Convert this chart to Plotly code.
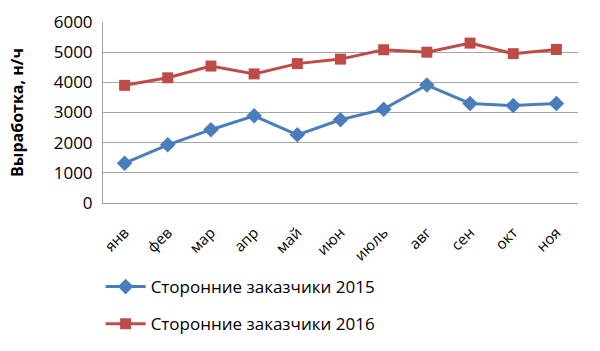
import plotly.graph_objects as go

months = ["янв", "фев", "мар", "апр", "май", "июн", "июль", "авг", "сен", "окт", "ноя"]
s2015 = [1320, 1930, 2430, 2890, 2260, 2760, 3110, 3910, 3300, 3230, 3300]
s2016 = [3900, 4150, 4540, 4280, 4620, 4770, 5080, 5000, 5300, 4950, 5090]
name2015 = "Сторонние заказчики 2015"
name2016 = "Сторонние заказчики 2016"
yticks = [0, 1000, 2000, 3000, 4000, 5000, 6000]

font = "Open Sans, DejaVu Sans, sans-serif"

fig = go.Figure()
fig.add_trace(go.Scatter(
    x=months, y=s2015, name=name2015, mode="lines+markers", legendgroup="a",
    line=dict(color="#4A7EBB", width=3),
    marker=dict(symbol="diamond", size=12, color="#4A7EBB"),
))
fig.add_trace(go.Scatter(
    x=months, y=s2016, name=name2016, mode="lines+markers", legendgroup="b",
    line=dict(color="#BE4B48", width=3),
    marker=dict(symbol="square", size=11, color="#BE4B48"),
))

fig.update_layout(
    width=600, height=351,
    margin=dict(l=103, r=22, t=22, b=148, autoexpand=False),
    paper_bgcolor="white", plot_bgcolor="white",
    font=dict(family=font, size=16, color="black"),
    showlegend=True,
    legend=dict(
        x=-0.005, xanchor="left", y=-0.365, yanchor="top",
        orientation="v", tracegroupgap=12,
        font=dict(size=17, family=font),
        itemwidth=40,
    ),
    xaxis=dict(
        type="category", tickangle=-45, showgrid=False,
        showline=True, linecolor="#A0A0A0", linewidth=1,
        ticks="outside", ticklen=14, tickcolor="rgba(0,0,0,0)",
        tickfont=dict(size=15), range=[-0.5, 10.5], automargin=False,
    ),
    yaxis=dict(
        range=[0, 6000], tickvals=yticks, showgrid=True, gridcolor="#A6A6A6",
        showline=True, linecolor="#A0A0A0", linewidth=1, zeroline=False,
        ticks="outside", ticklen=6, tickcolor="rgba(0,0,0,0)",
        tickfont=dict(size=17), automargin=False,
        title=dict(text="<b>Выработка, н/ч</b>", font=dict(size=16), standoff=26),
    ),
)

fig.write_html("out.html")
